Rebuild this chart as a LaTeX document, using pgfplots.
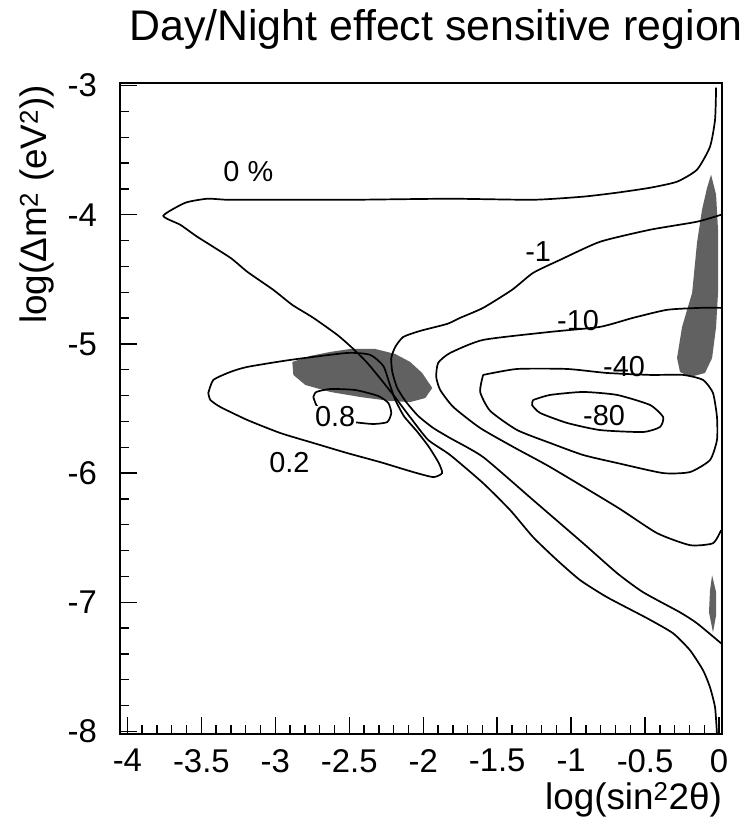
\documentclass[border=0pt]{standalone}
\usepackage{pgfplots}
\pgfplotsset{compat=1.18}
\usepackage{fontspec}
\setmainfont{Liberation Sans}

\pgfplotsset{
  contour/.style={black, line width=1.7bp, smooth, tension=0.35, mark=none},
  regionfill/.style={fill=black!62, draw=none, mark=none},
}
\tikzset{clabel/.style={font=\fontsize{29}{34}\selectfont, inner sep=1bp}}

\begin{document}
\begin{tikzpicture}
\path[use as bounding box] (-120bp,-83bp) rectangle (629bp,734bp);
\begin{axis}[
  at={(0,0)}, anchor=south west,
  scale only axis, width=602bp, height=651bp,
  xmin=-4.05, xmax=0.02, ymin=-8.02, ymax=-2.98,
  xtick={-4,-3.5,-3,-2.5,-2,-1.5,-1,-0.5,0},
  xticklabels={-4,-3.5,-3,-2.5,-2,-1.5,-1,-0.5,0},
  ytick={-8,-7,-6,-5,-4,-3},
  yticklabels={-8,-7,-6,-5,-4,-3},
  minor x tick num=4, minor y tick num=4,
  xtick pos=left, ytick pos=left,
  tick align=inside,
  major tick length=17bp, minor tick length=9bp,
  every tick/.style={black, line width=1.4bp},
  axis line style={line width=2.2bp},
  tick label style={font=\fontsize{33}{38}\selectfont},
  xticklabel style={anchor=north, inner sep=0pt, yshift=-15bp},
  yticklabel style={anchor=east, inner sep=0pt, xshift=-23bp},
  title={Day/Night effect sensitive region},
  title style={at={(axis description cs:0.525,1.0568)}, anchor=base, inner sep=0pt,
    font=\fontsize{43}{50}\selectfont},
  xlabel={log(sin\textsuperscript{2}2θ)},
  xlabel style={at={(axis description cs:1,-0.1152)}, anchor=base east, inner sep=0pt,
    font=\fontsize{37}{44}\selectfont},
  ylabel={log(Δm\textsuperscript{2} (eV\textsuperscript{2}))},
  ylabel style={at={(axis description cs:-0.1213,0.997)}, anchor=base east, inner sep=0pt,
    font=\fontsize{37}{44}\selectfont},
]

% sensitive regions (hatched areas)
\addplot[regionfill] coordinates {
  (-2.885,-5.140) (-2.764,-5.093) (-2.628,-5.062) (-2.493,-5.039) (-2.324,-5.039)
  (-2.189,-5.078) (-2.088,-5.140) (-2.007,-5.225) (-1.939,-5.341) (-1.986,-5.419)
  (-2.088,-5.450) (-2.223,-5.442) (-2.426,-5.411) (-2.628,-5.372) (-2.797,-5.318)
  (-2.878,-5.240)} -- cycle;
\addplot[regionfill] coordinates {
  (-0.054,-3.690) (-0.020,-3.845) (-0.007,-4.116) (-0.007,-4.605) (-0.020,-4.868)
  (-0.047,-5.109) (-0.095,-5.225) (-0.196,-5.256) (-0.264,-5.217) (-0.284,-5.109)
  (-0.250,-4.868) (-0.182,-4.605) (-0.149,-4.217) (-0.115,-3.961) (-0.081,-3.791)} -- cycle;
\addplot[regionfill] coordinates {
  (-0.047,-6.791) (-0.020,-6.922) (-0.020,-7.101) (-0.041,-7.233) (-0.068,-7.078)
  (-0.061,-6.907)} -- cycle;

% 0 % contour
\addplot[contour] coordinates {
  (-0.020,-3.016) (-0.027,-3.264) (-0.061,-3.473) (-0.149,-3.651) (-0.284,-3.744)
  (-0.466,-3.791) (-0.689,-3.829) (-0.919,-3.860) (-1.257,-3.884) (-1.818,-3.876)
  (-2.473,-3.884) (-3.034,-3.884) (-3.324,-3.884) (-3.459,-3.876) (-3.608,-3.907)
  (-3.757,-4.008) (-3.642,-4.078) (-3.527,-4.171) (-3.304,-4.333) (-3.189,-4.442)
  (-3.014,-4.581) (-2.885,-4.698) (-2.743,-4.798) (-2.581,-4.930) (-2.480,-5.031)
  (-2.378,-5.147) (-2.277,-5.287) (-2.176,-5.434) (-2.074,-5.589) (-1.966,-5.744)
  (-1.818,-5.860) (-1.595,-6.078) (-1.412,-6.287) (-1.257,-6.496) (-1.095,-6.674)
  (-0.939,-6.829) (-0.757,-6.961) (-0.486,-7.124) (-0.311,-7.240) (-0.196,-7.372)
  (-0.108,-7.527) (-0.061,-7.659) (-0.027,-7.814) (-0.014,-8.020)};

% -1 contour
\addplot[contour] coordinates {
  (0.014,-4.000) (-0.149,-4.054) (-0.466,-4.116) (-0.804,-4.209) (-1.074,-4.349)
  (-1.257,-4.450) (-1.399,-4.581) (-1.595,-4.721) (-1.750,-4.798) (-1.838,-4.845)
  (-2.020,-4.899) (-2.135,-4.946) (-2.189,-5.023) (-2.216,-5.109) (-2.209,-5.217)
  (-2.176,-5.341) (-2.115,-5.450) (-2.034,-5.558) (-1.932,-5.651) (-1.818,-5.729)
  (-1.595,-5.876) (-1.257,-6.209) (-0.919,-6.543) (-0.689,-6.775) (-0.514,-6.922)
  (-0.264,-7.078) (-0.149,-7.163) (0.014,-7.318)};

% -10 contour
\addplot[contour] coordinates {
  (0.014,-4.721) (-0.128,-4.721) (-0.351,-4.736) (-0.581,-4.798) (-0.804,-4.868)
  (-1.142,-4.907) (-1.595,-4.969) (-1.818,-5.070) (-1.899,-5.147) (-1.912,-5.256)
  (-1.885,-5.357) (-1.797,-5.488) (-1.615,-5.651) (-1.378,-5.806) (-1.142,-5.953)
  (-0.689,-6.264) (-0.419,-6.465) (-0.196,-6.558) (-0.041,-6.543) (0.014,-6.442)};

% -40 contour
\addplot[contour] coordinates {
  (-1.595,-5.240) (-1.365,-5.194) (-1.027,-5.194) (-0.757,-5.225) (-0.466,-5.240)
  (-0.243,-5.240) (-0.108,-5.279) (-0.041,-5.380) (-0.014,-5.566) (-0.014,-5.744)
  (-0.061,-5.899) (-0.196,-5.992) (-0.378,-6.000) (-0.689,-5.922) (-0.919,-5.860)
  (-1.142,-5.767) (-1.365,-5.667) (-1.547,-5.519) (-1.615,-5.372) (-1.595,-5.240)};

% -80 contour
\addplot[contour] coordinates {
  (-1.257,-5.434) (-1.142,-5.395) (-0.919,-5.372) (-0.689,-5.395) (-0.466,-5.473)
  (-0.378,-5.566) (-0.399,-5.643) (-0.514,-5.682) (-0.804,-5.667) (-1.027,-5.612)
  (-1.209,-5.535) (-1.264,-5.473) (-1.257,-5.434)};

% 0.2 contour
\addplot[contour] coordinates {
  (-3.453,-5.380) (-3.419,-5.279) (-3.304,-5.217) (-3.189,-5.178) (-2.899,-5.124)
  (-2.514,-5.070) (-2.358,-5.085) (-2.270,-5.170) (-2.230,-5.300) (-2.190,-5.430)
  (-2.130,-5.560) (-2.040,-5.680) (-1.960,-5.800) (-1.895,-5.922) (-1.872,-6.000)
  (-1.932,-6.031) (-2.068,-5.992) (-2.291,-5.915) (-2.514,-5.845) (-2.743,-5.767)
  (-2.966,-5.690) (-3.189,-5.589) (-3.372,-5.488) (-3.439,-5.434) (-3.453,-5.380)};

% 0.8 contour
\addplot[contour] coordinates {
  (-2.743,-5.411) (-2.723,-5.473) (-2.682,-5.519) (-2.600,-5.580) (-2.473,-5.605)
  (-2.338,-5.620) (-2.243,-5.605) (-2.216,-5.535) (-2.236,-5.457) (-2.304,-5.403)
  (-2.459,-5.357) (-2.628,-5.349) (-2.723,-5.372) (-2.743,-5.411)};

% contour labels
\node[clabel] at (axis cs:-3.182,-3.667) {0 \%};
\node[clabel] at (axis cs:-1.223,-4.287) {-1};
\node[clabel] at (axis cs:-0.953,-4.822) {-10};
\node[clabel] at (axis cs:-0.642,-5.178) {-40};
\node[clabel] at (axis cs:-0.777,-5.558) {-80};
\node[clabel, fill=white] at (axis cs:-2.595,-5.566) {0.8};
\node[clabel] at (axis cs:-2.905,-5.915) {0.2};
\end{axis}
\end{tikzpicture}
\end{document}
